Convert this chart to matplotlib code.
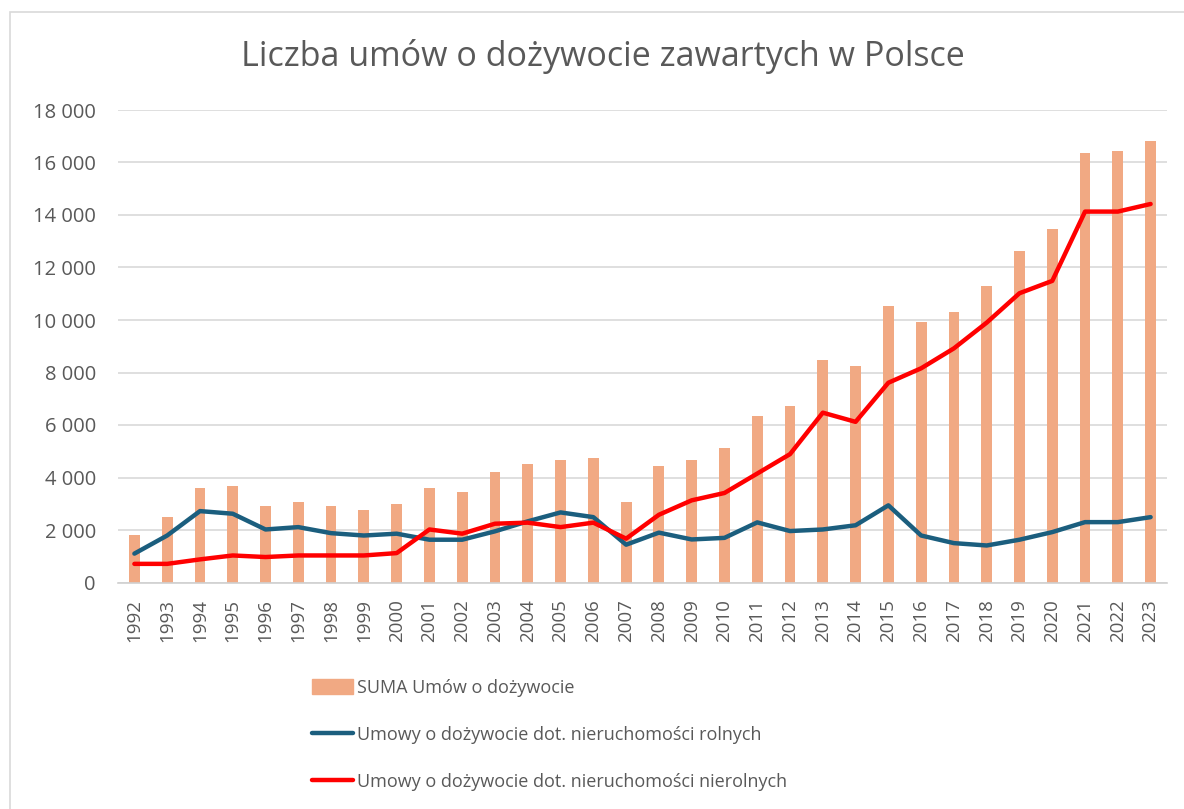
import numpy as np
import matplotlib.pyplot as plt
from matplotlib.patches import Patch, Rectangle
from matplotlib.lines import Line2D
from matplotlib.ticker import FuncFormatter, MultipleLocator

plt.rcParams['font.family'] = ['Open Sans', 'DejaVu Sans']

# Data
years = [str(y) for y in range(1992, 2024)]
suma = [1820, 2510, 3590, 3660, 2900, 3050, 2900, 2750, 2980, 3590,
        3430, 4200, 4500, 4660, 4730, 3080, 4430, 4660, 5110, 6340,
        6720, 8470, 8260, 10550, 9940, 10320, 11310, 12610, 13450, 16360,
        16430, 16820]
rolne = [1100, 1790, 2720, 2620, 2020, 2110, 1880, 1790, 1860, 1630,
         1630, 1950, 2330, 2670, 2490, 1440, 1900, 1640, 1700, 2290,
         1960, 2020, 2180, 2940, 1790, 1500, 1410, 1630, 1920, 2300,
         2300, 2490]
nierolne = [710, 710, 880, 1030, 970, 1030, 1030, 1030, 1120, 2020,
            1860, 2240, 2280, 2110, 2280, 1670, 2580, 3130, 3410, 4150,
            4890, 6470, 6120, 7610, 8160, 8920, 9900, 11020, 11490, 14130,
            14130, 14420]

label_suma = "SUMA Umów o dożywocie"
label_rolne = "Umowy o dożywocie dot. nieruchomości rolnych"
label_nierolne = "Umowy o dożywocie dot. nieruchomości nierolnych"

text_color = '#595959'
bar_color = '#F1A983'
blue = '#1B5E7E'
red = '#FF0000'

fig = plt.figure(figsize=(11.84, 8.09), dpi=100)
ax = fig.add_axes([118/1184, 1 - 582.5/809, (1167-118)/1184, (582.5-110)/809])

x = np.arange(len(years))
ax.bar(x, suma, width=0.33, color=bar_color, zorder=2)
ax.plot(x, rolne, color=blue, lw=3.2, solid_capstyle='round', solid_joinstyle='round', zorder=3)
ax.plot(x, nierolne, color=red, lw=3.2, solid_capstyle='round', solid_joinstyle='round', zorder=4)

ax.set_xlim(-0.5, len(years) - 0.5)
ax.set_ylim(0, 18000)
ax.yaxis.set_major_locator(MultipleLocator(2000))
ax.yaxis.set_major_formatter(FuncFormatter(lambda v, p: f"{int(v):,}".replace(",", " ")))
ax.grid(axis='y', color='#D9D9D9', lw=1.2, zorder=0)
ax.set_axisbelow(True)
for s in ['top', 'right', 'left']:
    ax.spines[s].set_visible(False)
ax.spines['bottom'].set_color('#D0D0D0')
ax.spines['bottom'].set_linewidth(1.2)

ax.set_xticks(x)
ax.set_xticklabels(years, rotation=90)
ax.tick_params(axis='both', length=0, colors=text_color)
ax.tick_params(axis='y', pad=16, labelsize=14.5)
ax.tick_params(axis='x', pad=12, labelsize=13.5)

fig.text(603/1184, 1 - 57/809, "Liczba umów o dożywocie zawartych w Polsce",
         ha='center', va='center', fontsize=24.5, color=text_color)

handles = [Patch(color=bar_color),
           Line2D([], [], color=blue, lw=3.2, solid_capstyle='round'),
           Line2D([], [], color=red, lw=3.2, solid_capstyle='round')]
fig.legend(handles, [label_suma, label_rolne, label_nierolne],
           loc='upper left', bbox_to_anchor=(303/1184, 1 - 670/809),
           frameon=False, fontsize=13, labelcolor=text_color,
           handlelength=2.25, handleheight=0.9, handletextpad=0.25,
           labelspacing=1.6, borderpad=0)

# thin frame around the chart area
fig.patches.append(Rectangle((10/1184, -0.1), 1.2, 1.1 - 12/809,
                             transform=fig.transFigure, fill=False,
                             edgecolor='#D9D9D9', lw=1.2))

fig.savefig('out.png', dpi=100)
